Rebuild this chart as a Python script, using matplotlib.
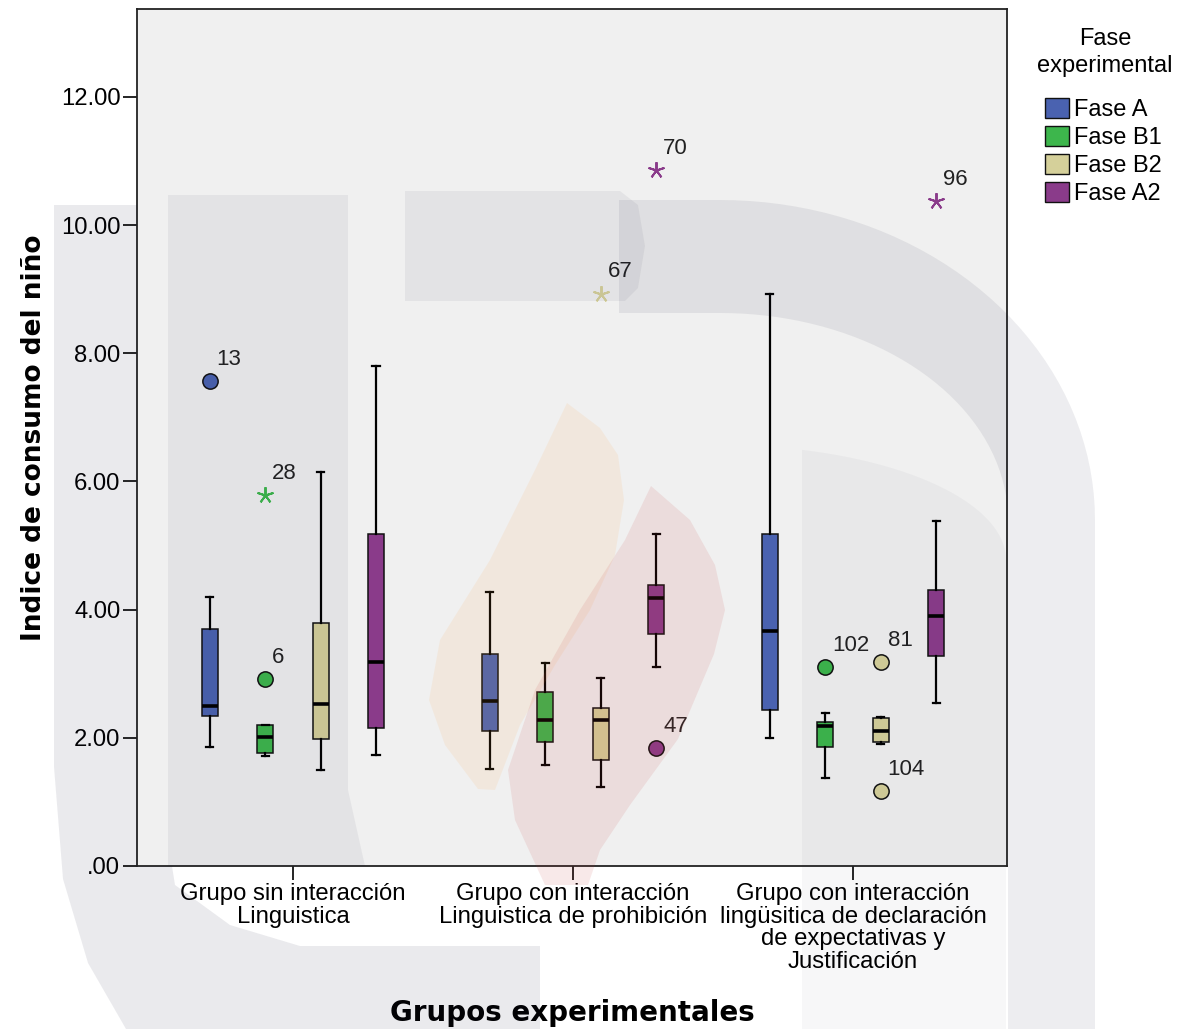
import numpy as np
import matplotlib
matplotlib.use("Agg")
import matplotlib.pyplot as plt
from matplotlib.patches import Patch, Polygon
from matplotlib.transforms import Affine2D
from matplotlib.ticker import FuncFormatter

plt.rcParams['font.family'] = ['Liberation Sans', 'DejaVu Sans']

# Data
grupos = ['Grupo sin interacción\nLinguistica',
          'Grupo con interacción\nLinguistica de prohibición',
          'Grupo con interacción\nlingüsitica de declaración\nde expectativas y\nJustificación']
fases = ['Fase A', 'Fase B1', 'Fase B2', 'Fase A2']
colores = ['#4a62b0', '#3db64c', '#d5d09a', '#8a3b8a']

# one row per group, one column per phase
whislo = [[1.85, 1.71, 1.50, 1.73], [1.51, 1.57, 1.23, 3.11], [1.99, 1.38, 1.91, 2.54]]
q1     = [[2.34, 1.76, 1.98, 2.16], [2.11, 1.94, 1.66, 3.62], [2.43, 1.86, 1.93, 3.27]]
med    = [[2.49, 2.01, 2.53, 3.19], [2.58, 2.27, 2.28, 4.18], [3.67, 2.18, 2.10, 3.90]]
q3     = [[3.70, 2.20, 3.79, 5.18], [3.30, 2.71, 2.47, 4.39], [5.18, 2.25, 2.31, 4.31]]
whishi = [[4.19, 2.20, 6.14, 7.80], [4.27, 3.16, 2.94, 5.18], [8.93, 2.38, 2.33, 5.39]]

# outliers: group, phase, value, case number, extreme (star) or not (circle)
out_grupo = [0, 0, 0, 1, 1, 1, 2, 2, 2, 2]
out_fase = [0, 1, 1, 2, 3, 3, 3, 1, 2, 2]
out_valor = [7.57, 5.79, 2.91, 8.93, 10.86, 1.84, 10.37, 3.11, 3.18, 1.17]
out_caso = ['13', '28', '6', '67', '70', '47', '96', '102', '81', '104']
out_extremo = [False, True, False, True, True, False, True, False, False, False]

W, H = 1196, 1029
fig = plt.figure(figsize=(W / 100, H / 100), dpi=100)
ax = fig.add_axes([137 / W, 1 - 866 / H, 870 / W, 857 / H])
ax.set_facecolor('#f0f0f0')

sep = 0.198
def xpos(g, f):
    return g + (f - 1.5) * sep

for f in range(len(fases)):
    stats = []
    for g in range(len(grupos)):
        stats.append(dict(whislo=whislo[g][f], q1=q1[g][f], med=med[g][f],
                          q3=q3[g][f], whishi=whishi[g][f], fliers=[]))
    ax.bxp(stats, positions=[xpos(g, f) for g in range(len(grupos))],
           widths=0.056, capwidths=0.026, patch_artist=True, showfliers=False,
           boxprops=dict(facecolor=colores[f], edgecolor='#111111', linewidth=1.1),
           medianprops=dict(color='black', linewidth=2.6, solid_capstyle='butt'),
           whiskerprops=dict(color='black', linewidth=1.6),
           capprops=dict(color='black', linewidth=1.6), manage_ticks=False)

# outliers with case labels
for g, f, v, caso, ext in zip(out_grupo, out_fase, out_valor, out_caso, out_extremo):
    x = xpos(g, f)
    if ext:
        ax.plot(x, v, marker=(5, 2, 0), color=colores[f], markersize=12,
                markeredgewidth=1.4, linestyle='none', zorder=4)
    else:
        ax.plot(x, v, marker='o', markerfacecolor=colores[f], markeredgecolor='#111111',
                markersize=11, markeredgewidth=1.1, linestyle='none', zorder=4)
    ax.annotate(caso, (x, v), xytext=(5, 8), textcoords='offset points',
                ha='left', va='bottom', fontsize=16, color='#222222')

ax.set_xlim(-0.557, 2.55)
ax.set_ylim(0, 13.37)
ax.set_yticks(np.arange(0, 13, 2))
ax.yaxis.set_major_formatter(FuncFormatter(lambda v, p: f'{v:.2f}'.lstrip('0') if v < 1 else f'{v:.2f}'))
ax.set_xticks(range(len(grupos)))
ax.set_xticklabels(grupos, linespacing=1.05)
ax.tick_params(axis='both', direction='out', length=10, width=1.2, labelsize=17.2,
               colors='black', pad=2)
for s in ax.spines.values():
    s.set_color('#222222')
    s.set_linewidth(1.3)

ax.set_ylabel('Indice de consumo del niño', fontsize=19, fontweight='bold',
              family='DejaVu Sans')
ax.yaxis.set_label_coords(-0.104, 0.5)
ax.set_xlabel('Grupos experimentales', fontsize=20, fontweight='bold',
              family='DejaVu Sans')
ax.xaxis.set_label_coords(0.5, -0.155)

handles = [Patch(facecolor=c, edgecolor='#111111', linewidth=1.0) for c in colores]
fig.legend(handles, fases, loc='upper left', bbox_to_anchor=(1045 / W, 1 - 98 / H),
           frameon=False, fontsize=17, handlelength=1.0, handleheight=0.95,
           handletextpad=0.22, labelspacing=0.2, borderpad=0, borderaxespad=0)
fig.text(1105 / W, 1 - 28 / H, 'Fase\nexperimental', ha='center', va='top',
         multialignment='center', fontsize=17, linespacing=1.32)

# faint background watermark of the source page (drawn over everything, translucent)
tr = Affine2D().scale(1 / W, -1 / H).translate(0, 1) + fig.transFigure
def mancha(pts, color, alpha):
    fig.add_artist(Polygon(pts, closed=True, transform=tr, facecolor=color,
                           edgecolor='none', alpha=alpha, zorder=10))

gris = '#202040'
mancha([(54, 205), (137, 205), (137, 866), (172, 866), (175, 885), (230, 925), (300, 946),
        (540, 946), (540, 1029), (126, 1029), (88, 963), (63, 879), (54, 767)], gris, 0.09)
mancha([(168, 195), (348, 195), (348, 790), (365, 866), (168, 866)], gris, 0.06)
mancha([(405, 191), (620, 191), (638, 205), (645, 246), (638, 288), (625, 301), (405, 301)], gris, 0.06)
t = np.linspace(np.pi / 2, 0, 40)
arco = ([(619, 200)] + list(zip(720 + 375 * np.cos(t), 520 - 320 * np.sin(t))) +
        [(1095, 1029), (1008, 1029)] +
        list(zip(720 + 288 * np.cos(t[::-1]), 520 - 207 * np.sin(t[::-1]))) + [(619, 313)])
mancha(arco, gris, 0.08)
t2 = np.linspace(np.arccos(82 / 286), 0, 30)
mancha([(802, 1029)] + list(zip(720 + 286 * np.cos(t2), 560 - 115 * np.sin(t2))) +
       [(1006, 1029)], gris, 0.035)
mancha([(567, 403), (600, 428), (618, 455), (624, 500), (615, 555), (590, 610), (555, 665),
        (520, 725), (495, 790), (478, 789), (445, 745), (429, 700), (440, 640), (490, 560),
        (535, 470)], '#ffa03c', 0.10)
mancha([(651, 486), (690, 520), (715, 565), (725, 610), (714, 654), (678, 739), (630, 805),
        (600, 850), (588, 885), (545, 885), (515, 820), (508, 770), (535, 690), (580, 610),
        (625, 540)], '#c83c3c', 0.11)

fig.savefig('out.png', dpi=100)
